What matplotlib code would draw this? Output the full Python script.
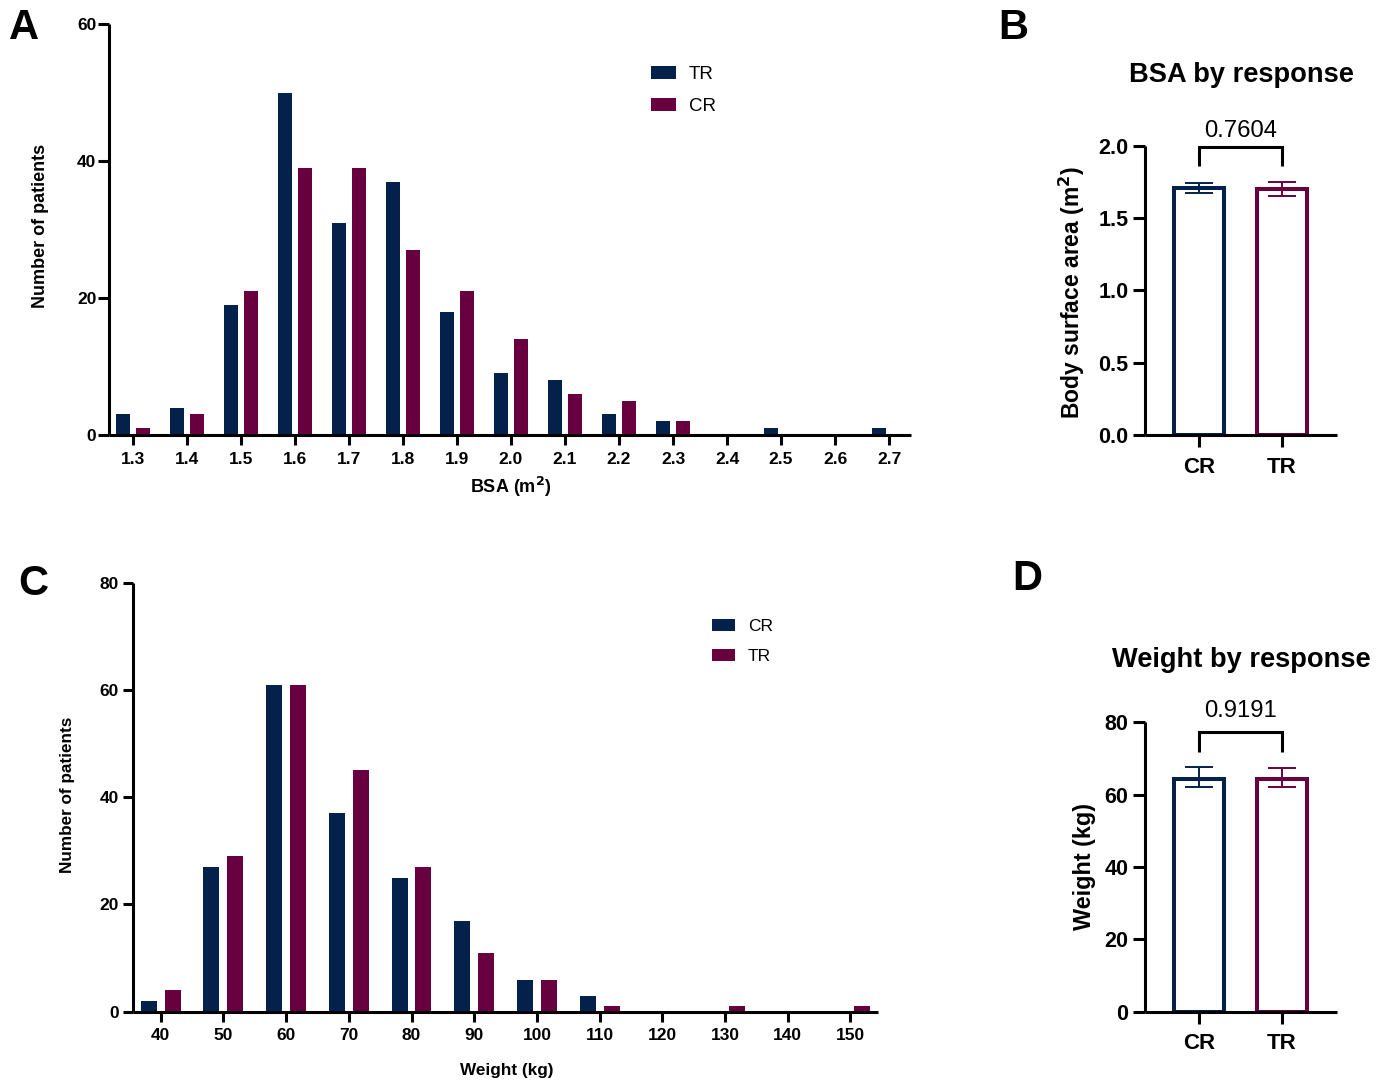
import matplotlib
matplotlib.use("Agg")
import matplotlib.pyplot as plt
import numpy as np

plt.rcParams['font.family'] = ['Liberation Sans', 'DejaVu Sans']

NAVY = '#04214C'
MAROON = '#68003F'

# ---------------- data ----------------
bsa_bins = [1.3, 1.4, 1.5, 1.6, 1.7, 1.8, 1.9, 2.0, 2.1, 2.2, 2.3, 2.4, 2.5, 2.6, 2.7]
bsa_tr = [3, 4, 19, 50, 31, 37, 18, 9, 8, 3, 2, 0, 1, 0, 1]
bsa_cr = [1, 3, 21, 39, 39, 27, 21, 14, 6, 5, 2, 0, 0, 0, 0]

wt_bins = [40, 50, 60, 70, 80, 90, 100, 110, 120, 130, 140, 150]
wt_cr = [2, 27, 61, 37, 25, 17, 6, 3, 0, 0, 0, 0]
wt_tr = [4, 29, 61, 45, 27, 11, 6, 1, 0, 1, 0, 1]

groups = ['CR', 'TR']
bsa_mean = [1.71, 1.70]
bsa_lo = [1.675, 1.655]
bsa_hi = [1.744, 1.747]
bsa_p = '0.7604'

wt_mean = [64.2, 64.4]
wt_lo = [62.0, 62.0]
wt_hi = [67.7, 67.3]
wt_p = '0.9191'

# ---------------- figure ----------------
W, H = 1389, 1081
fig = plt.figure(figsize=(W / 100, H / 100), dpi=100)


def add_ax(left, right, top, bottom):
    return fig.add_axes([left / W, 1 - bottom / H, (right - left) / W, (bottom - top) / H])


def style(ax, lw=2.2):
    for s in ['top', 'right']:
        ax.spines[s].set_visible(False)
    for s in ['left', 'bottom']:
        ax.spines[s].set_linewidth(lw)
        ax.spines[s].set_capstyle('butt')


# ---- Panel A ----
axA = add_ax(109, 911, 24, 435)
style(axA)
xa = np.array(bsa_bins)
axA.bar(xa - 0.0185, bsa_tr, width=0.026, color=NAVY, label='TR')
axA.bar(xa + 0.0185, bsa_cr, width=0.026, color=MAROON, label='CR')
axA.set_xlim(1.2556, 2.7407)
axA.set_ylim(0, 60)
axA.set_yticks([0, 20, 40, 60])
axA.set_xticks(bsa_bins)
axA.set_xticklabels([f'{v:.1f}' for v in bsa_bins])
axA.tick_params(axis='y', length=8, width=2.2, pad=1, labelsize=12.5)
axA.tick_params(axis='x', length=7, width=2.2, pad=5, labelsize=12.5)
for t in axA.get_xticklabels() + axA.get_yticklabels():
    t.set_fontweight('bold')
axA.set_ylabel('Number of patients', fontsize=13, fontweight='bold', va='center')
axA.yaxis.set_label_coords(-0.0848, 0.5085)
axA.set_xlabel('BSA (m$^\\mathbf{2}$)', fontsize=13, fontweight='bold', va='center')
axA.xaxis.set_label_coords(0.501, -0.1265)
axA.legend(loc='center left', bbox_to_anchor=(651 / W, 1 - 90.5 / H), bbox_transform=fig.transFigure,
           frameon=False, borderpad=0, borderaxespad=0, fontsize=13.5,
           handlelength=1.33, handleheight=0.7, handletextpad=0.7, labelspacing=0.78)

# ---- Panel C ----
axC = add_ax(133.3, 878, 582.7, 1011.7)
style(axC)
xc = np.array(wt_bins, dtype=float)
axC.bar(xc - 1.91, wt_cr, width=2.55, color=NAVY, label='CR')
axC.bar(xc + 1.91, wt_tr, width=2.55, color=MAROON, label='TR')
axC.set_xlim(35.63, 154.4)
axC.set_ylim(0, 80)
axC.set_yticks([0, 20, 40, 60, 80])
axC.set_xticks(wt_bins)
axC.tick_params(axis='y', length=7, width=2.2, pad=3.5, labelsize=12.5)
axC.tick_params(axis='x', length=7, width=2.2, pad=4.5, labelsize=12.5)
for t in axC.get_xticklabels() + axC.get_yticklabels():
    t.set_fontweight('bold')
axC.set_ylabel('Number of patients', fontsize=12.3, fontweight='bold', va='center')
axC.yaxis.set_label_coords(-0.0877, 0.5065)
axC.set_xlabel('Weight (kg)', fontsize=12.3, fontweight='bold', va='center')
axC.xaxis.set_label_coords(0.5014, -0.136)
axC.legend(loc='center left', bbox_to_anchor=(712 / W, 1 - 641.5 / H), bbox_transform=fig.transFigure,
           frameon=False, borderpad=0, borderaxespad=0, fontsize=12.5,
           handlelength=1.33, handleheight=0.7, handletextpad=0.75, labelspacing=0.87)


# ---- Panels B and D ----
def summary_panel(ax, mean, lo, hi, ylim, yticks, fmt, bracket_top, bracket_leg, ptxt, ptxt_y):
    style(ax)
    x = np.arange(len(groups))
    cols = [NAVY, MAROON]
    ax.bar(x, mean, width=0.6, facecolor='white', edgecolor=cols, linewidth=2.9, zorder=2)
    for i in range(len(groups)):
        ax.errorbar(x[i], mean[i], yerr=[[mean[i] - lo[i]], [hi[i] - mean[i]]], fmt='none',
                    ecolor=cols[i], elinewidth=1.4, capsize=10, capthick=1.4, zorder=3)
    ax.set_xlim(-0.651, 1.663)
    ax.set_ylim(*ylim)
    ax.set_yticks(yticks)
    ax.set_yticklabels([fmt.format(v) for v in yticks])
    ax.set_xticks(x)
    ax.set_xticklabels(groups)
    ax.tick_params(axis='y', length=8.5, width=2.2, pad=3.5, labelsize=15.5)
    ax.tick_params(axis='x', length=8.5, width=2.2, pad=7, labelsize=16)
    for t in ax.get_xticklabels() + ax.get_yticklabels():
        t.set_fontweight('bold')
    ax.plot([x[0], x[0], x[1], x[1]], [bracket_leg, bracket_top, bracket_top, bracket_leg],
            color='black', lw=2.2, clip_on=False, solid_capstyle='butt', solid_joinstyle='miter')
    ax.text(0.5, ptxt_y, ptxt, ha='center', va='baseline', fontsize=17.2, clip_on=False)


axB = add_ax(1145, 1337, 145.7, 435)
summary_panel(axB, bsa_mean, bsa_lo, bsa_hi, (0, 2.0), [0.0, 0.5, 1.0, 1.5, 2.0], '{:.1f}',
              1.99, 1.862, bsa_p, 2.06)
axB.set_ylabel('Body surface area (m$^\\mathbf{2}$)', fontsize=16.5, fontweight='bold', va='center')
axB.yaxis.set_label_coords(-0.382, 0.4926)

axD = add_ax(1145, 1337, 722.3, 1011.7)
summary_panel(axD, wt_mean, wt_lo, wt_hi, (0, 80), [0, 20, 40, 60, 80], '{:.0f}',
              77.4, 71.9, wt_p, 81.6)
axD.set_ylabel('Weight (kg)', fontsize=16.8, fontweight='bold', va='center')
axD.yaxis.set_label_coords(-0.3125, 0.501)

# titles
fig.text(1241 / W, 1 - 82 / H, 'BSA by response', ha='center', va='baseline', fontsize=19.6, fontweight='bold')
fig.text(1241 / W, 1 - 667 / H, 'Weight by response', ha='center', va='baseline', fontsize=19.6, fontweight='bold')

# panel letters
for letter, px, py in [('A', 24, 39), ('B', 1013, 39), ('C', 33, 595), ('D', 1027, 590)]:
    fig.text(px / W, 1 - py / H, letter, ha='center', va='baseline', fontsize=30, fontweight='bold')

fig.savefig('out.png', dpi=100)
